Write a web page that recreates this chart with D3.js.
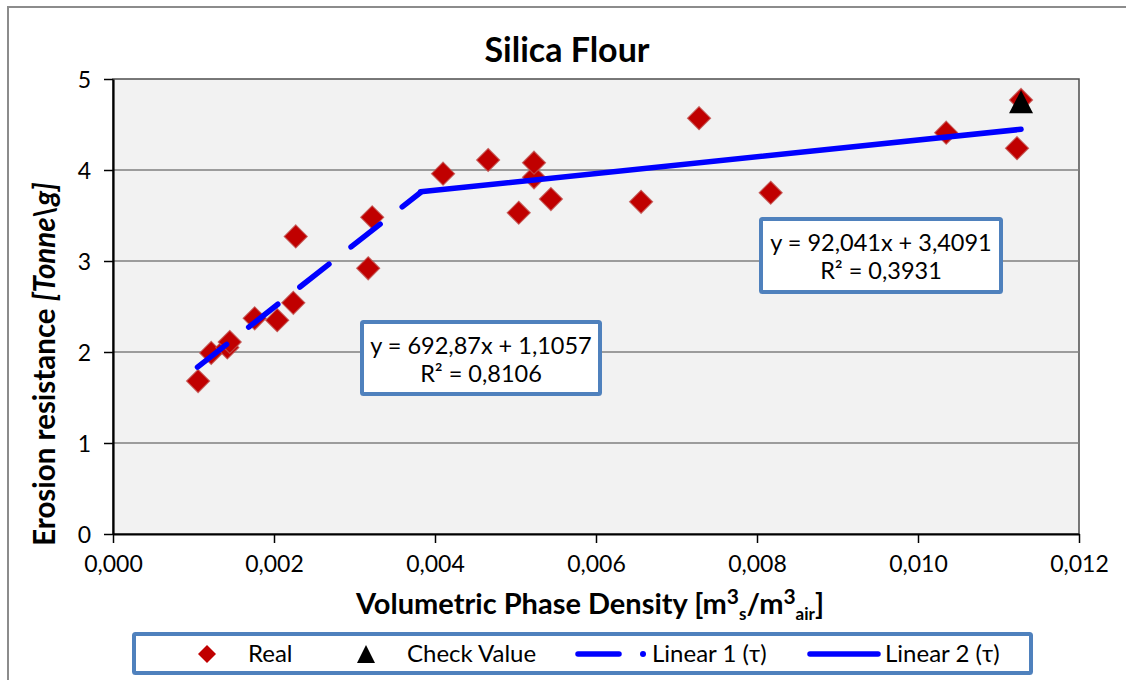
<!DOCTYPE html>
<html>
<head>
<meta charset="utf-8">
<script src="https://cdn.jsdelivr.net/npm/d3@7/dist/d3.min.js"></script>
<style>
  html, body { margin: 0; padding: 0; background: #fff; }
  svg { display: block; font-family: Lato, "Open Sans", sans-serif; }
</style>
</head>
<body>
<svg id="chart" width="1126" height="680"></svg>
<script>
// ---- data ----
const realX = [0.001057, 0.00122, 0.00142, 0.00145, 0.00176, 0.00204, 0.00224, 0.00227, 0.00317, 0.00322,
               0.00410, 0.00466, 0.00504, 0.00523, 0.00523, 0.00544, 0.00656, 0.00728, 0.00817, 0.01035, 0.01123, 0.01128];
const realY = [1.68, 1.99, 2.05, 2.11, 2.37, 2.35, 2.54, 3.27, 2.92, 3.48,
               3.96, 4.11, 3.53, 3.92, 4.08, 3.68, 3.65, 4.57, 3.75, 4.41, 4.24, 4.77];
const checkX = [0.01128];
const checkY = [4.75];
const trend1Range = [0.00105, 0.00382];
const trend1Coef = [692.87, 1.1057];
const trend2Range = [0.00382, 0.01128];
const trend2Coef = [92.041, 3.4091];
const xTicks = [0, 0.002, 0.004, 0.006, 0.008, 0.010, 0.012];
const yTicks = [0, 1, 2, 3, 4, 5];
const eq1Lines = ["y = 692,87x + 1,1057", "R\u00b2 = 0,8106"];
const eq2Lines = ["y = 92,041x + 3,4091", "R\u00b2 = 0,3931"];
const legendLabels = ["Real", "Check Value", "Linear 1 (\u03c4)", "Linear 2 (\u03c4)"];

// ---- layout ----
const svg = d3.select("#chart");
const L = 113, R = 1079, T = 79, B = 534;
const x = d3.scaleLinear().domain([0, 0.012]).range([L, R]);
const y = d3.scaleLinear().domain([0, 5]).range([B, T]);
const fmtX = v => d3.format(".3f")(v).replace(".", ",");

// outer chart border
svg.append("rect").attr("x", 8).attr("y", 7).attr("width", 1300).attr("height", 900)
  .attr("fill", "#fff").attr("stroke", "#8c8c8c").attr("stroke-width", 2);

// plot area
svg.append("rect").attr("x", L).attr("y", T).attr("width", R - L).attr("height", B - T)
  .attr("fill", "#f2f2f2").attr("stroke", "#4d4d4d").attr("stroke-width", 1.5);

// gridlines
svg.append("g").selectAll("line").data(yTicks.filter(d => d > 0 && d < 5)).join("line")
  .attr("x1", L).attr("x2", R).attr("y1", d => y(d)).attr("y2", d => y(d))
  .attr("stroke", "#7f7f7f").attr("stroke-width", 1.3);

// axes
const xAxis = svg.append("g").attr("transform", `translate(0,${B})`)
  .call(d3.axisBottom(x).tickValues(xTicks).tickFormat(fmtX).tickSize(9).tickSizeOuter(0));
const yAxis = svg.append("g").attr("transform", `translate(${L},0)`)
  .call(d3.axisLeft(y).tickValues(yTicks).tickFormat(d => d).tickSize(9).tickSizeOuter(0));
[xAxis, yAxis].forEach(g => {
  g.select(".domain").attr("stroke", "#000").attr("stroke-width", 2.2);
  g.selectAll(".tick line").attr("stroke", "#000").attr("stroke-width", 1.5);
  g.selectAll("text").attr("font-family", "Lato, sans-serif").attr("font-size", 23).attr("fill", "#000");
});
xAxis.selectAll("text").attr("dy", "1.05em").attr("y", 14);
yAxis.selectAll("text").attr("x", -22).attr("dy", "0.36em");

// title
svg.append("text").attr("x", 567).attr("y", 62).attr("text-anchor", "middle")
  .attr("font-size", 34).attr("font-weight", "bold").text("Silica Flour");

// x axis title
const xt = svg.append("text").attr("x", 590).attr("y", 614).attr("text-anchor", "middle")
  .attr("font-size", 29).attr("font-weight", "bold");
xt.append("tspan").text("Volumetric Phase Density [m");
xt.append("tspan").attr("font-size", 21).attr("dy", -10).text("3");
xt.append("tspan").attr("font-size", 17).attr("dy", 16).text("s");
xt.append("tspan").attr("dy", -6).text("/m");
xt.append("tspan").attr("font-size", 21).attr("dy", -10).text("3");
xt.append("tspan").attr("font-size", 17).attr("dy", 16).text("air");
xt.append("tspan").attr("dy", -6).text("]");

// y axis title
const yt = svg.append("text").attr("transform", "translate(55,364) rotate(-90)")
  .attr("text-anchor", "middle").attr("font-size", 29.5).attr("font-weight", "bold");
yt.append("tspan").text("Erosion resistance ");
yt.append("tspan").attr("font-style", "italic").text("[Tonne\\g]");

// trend lines
const line = d3.line().x(d => x(d[0])).y(d => y(d[1]));
const t1 = trend1Range.map(v => [v, trend1Coef[0] * v + trend1Coef[1]]);
const t2 = trend2Range.map(v => [v, trend2Coef[0] * v + trend2Coef[1]]);

// markers
function diamondPath(s) { return `M0,${-s}L${s},0L0,${s}L${-s},0Z`; }
svg.append("g").selectAll("path").data(realX.map((v, i) => [v, realY[i]])).join("path")
  .attr("d", diamondPath(11.5))
  .attr("transform", d => `translate(${x(d[0])},${y(d[1])})`)
  .attr("fill", "#c00000").attr("stroke", "#c0504d").attr("stroke-width", 1.2).attr("stroke-opacity", 0.8);

svg.append("path").datum(t1).attr("d", line).attr("fill", "none")
  .attr("stroke", "#0000ff").attr("stroke-width", 5.5).attr("stroke-linecap", "round")
  .attr("stroke-dasharray", "37,28");
svg.append("path").datum(t2).attr("d", line).attr("fill", "none")
  .attr("stroke", "#0000ff").attr("stroke-width", 5.5).attr("stroke-linecap", "round");

function triPath(w, h) { return `M0,${-h / 2}L${w / 2},${h / 2}L${-w / 2},${h / 2}Z`; }
svg.append("g").selectAll("path").data(checkX.map((v, i) => [v, checkY[i]])).join("path")
  .attr("d", triPath(24, 23))
  .attr("transform", d => `translate(${x(d[0])},${y(d[1])})`)
  .attr("fill", "#000");

// equation boxes
function eqBox(x0, y0, w, h, lines) {
  const g = svg.append("g");
  g.append("rect").attr("x", x0).attr("y", y0).attr("width", w).attr("height", h)
    .attr("fill", "#fff").attr("stroke", "#4f81bd").attr("stroke-width", 4).attr("rx", 1.5);
  g.selectAll("text").data(lines).join("text")
    .attr("x", x0 + w / 2).attr("y", (d, i) => y0 + 32 + i * 28)
    .attr("text-anchor", "middle").attr("font-size", 23.5).attr("fill", "#000").text(d => d);
}
eqBox(362, 322, 238, 72, eq1Lines);
eqBox(761, 219, 240, 73, eq2Lines);

// legend
const lg = svg.append("g");
lg.append("rect").attr("x", 134).attr("y", 634).attr("width", 897).attr("height", 39)
  .attr("fill", "#fff").attr("stroke", "#4f81bd").attr("stroke-width", 4).attr("rx", 1.5);
lg.append("path").attr("d", diamondPath(9)).attr("transform", "translate(207,654)").attr("fill", "#c00000");
lg.append("path").attr("d", triPath(18, 18)).attr("transform", "translate(366,654)").attr("fill", "#000");
lg.append("line").attr("x1", 578).attr("x2", 619).attr("y1", 654).attr("y2", 654)
  .attr("stroke", "#0000ff").attr("stroke-width", 5.5).attr("stroke-linecap", "round");
lg.append("circle").attr("cx", 643).attr("cy", 654).attr("r", 3).attr("fill", "#0000ff");
lg.append("line").attr("x1", 810).attr("x2", 878).attr("y1", 654).attr("y2", 654)
  .attr("stroke", "#0000ff").attr("stroke-width", 5.5).attr("stroke-linecap", "round");
const lx = [248, 407, 652, 885];
lg.selectAll("text.leg").data(legendLabels).join("text").attr("class", "leg")
  .attr("x", (d, i) => lx[i]).attr("y", 662).attr("font-size", 24).attr("fill", "#000").text(d => d);
</script>
</body>
</html>
